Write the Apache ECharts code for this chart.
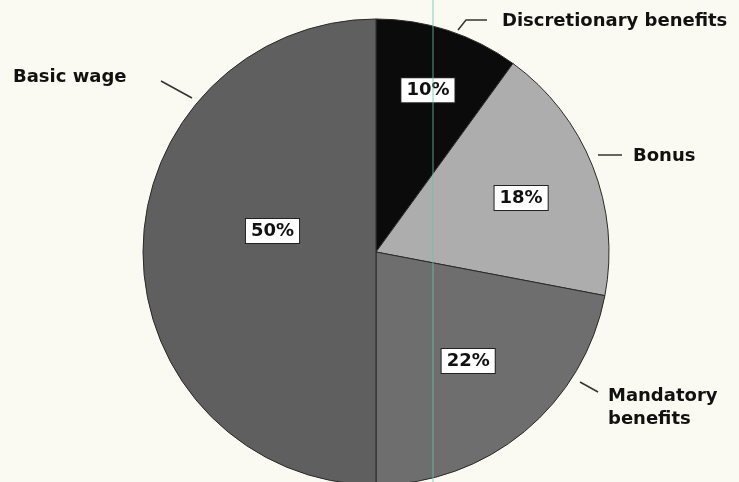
<!DOCTYPE html>
<html>
<head>
<meta charset="utf-8">
<script src="https://cdn.jsdelivr.net/npm/echarts@6/dist/echarts.min.js"></script>
<style>
html,body{margin:0;padding:0;background:#fbfaf2;}
#chart{width:739px;height:482px;}
</style>
</head>
<body>
<div id="chart"></div>
<script>
// Data (clockwise from 12 o'clock)
const categories = ['Discretionary benefits', 'Bonus', 'Mandatory benefits', 'Basic wage'];
const shares = [10, 18, 22, 50];
const pctLabels = ['10%', '18%', '22%', '50%'];
const outerLabels = ['Discretionary benefits', 'Bonus', 'Mandatory\nbenefits', 'Basic wage'];

// Styling / layout (kept separate from data)
const sliceColors = ['#0b0b0b', '#adadad', '#6e6e6e', '#5f5f5f'];
const pctOffsets = [[15, -48], [34, -10], [16, 17], [16, -21]];
// outer label text anchor (left, middle) and leader line points
const outerPos = [
  { x: 502, y: 21, line: [[458, 30], [466, 20], [487, 20]] },
  { x: 633, y: 156, line: [[598, 155], [622, 155]] },
  { x: 608, y: 408, line: [[580, 382], [598, 392]] },
  { x: 13, y: 77, line: [[192, 98], [161, 81]] }
];

const chart = echarts.init(document.getElementById('chart'), null, { renderer: 'canvas' });
const font = '"DejaVu Sans", Lato, sans-serif';
const data = categories.map((c, i) => ({ name: c, value: shares[i], itemStyle: { color: sliceColors[i] } }));

chart.setOption({
  backgroundColor: '#fbfaf2',
  animation: false,
  series: [
    {
      type: 'pie',
      center: ['50.88%', '52.28%'],
      radius: 233,
      startAngle: 90,
      clockwise: true,
      silent: true,
      data: data,
      itemStyle: { borderColor: '#2a2a2a', borderWidth: 1 },
      label: {
        show: true,
        position: 'inside',
        formatter: p => pctLabels[p.dataIndex],
        fontFamily: font,
        fontWeight: 'bold',
        fontSize: 18,
        color: '#111',
        backgroundColor: '#ffffff',
        borderColor: '#222',
        borderWidth: 1,
        padding: [4, 5, 2, 5]
      },
      labelLine: { show: false },
      labelLayout: p => ({ dx: pctOffsets[p.dataIndex][0], dy: pctOffsets[p.dataIndex][1] })
    },
    {
      type: 'pie',
      center: ['50.88%', '52.28%'],
      radius: 233,
      startAngle: 90,
      clockwise: true,
      silent: true,
      data: categories.map((c, i) => ({ name: c, value: shares[i] })),
      itemStyle: { color: 'rgba(0,0,0,0)', borderWidth: 0 },
      label: {
        show: true,
        position: 'outside',
        overflow: 'none',
        formatter: p => outerLabels[p.dataIndex],
        fontFamily: font,
        fontWeight: 'bold',
        fontSize: 18,
        lineHeight: 23,
        color: '#111'
      },
      labelLine: { show: true, lineStyle: { color: '#333', width: 1.5 } },
      labelLayout: p => ({
        x: outerPos[p.dataIndex].x,
        y: outerPos[p.dataIndex].y,
        align: 'left',
        verticalAlign: 'middle',
        labelLinePoints: outerPos[p.dataIndex].line
      })
    }
  ],
  graphic: [
    { type: 'line', z: 100, shape: { x1: 433, y1: 0, x2: 433, y2: 482 }, style: { stroke: '#5cc8b0', lineWidth: 1, opacity: 0.8 } }
  ]
});
</script>
</body>
</html>
